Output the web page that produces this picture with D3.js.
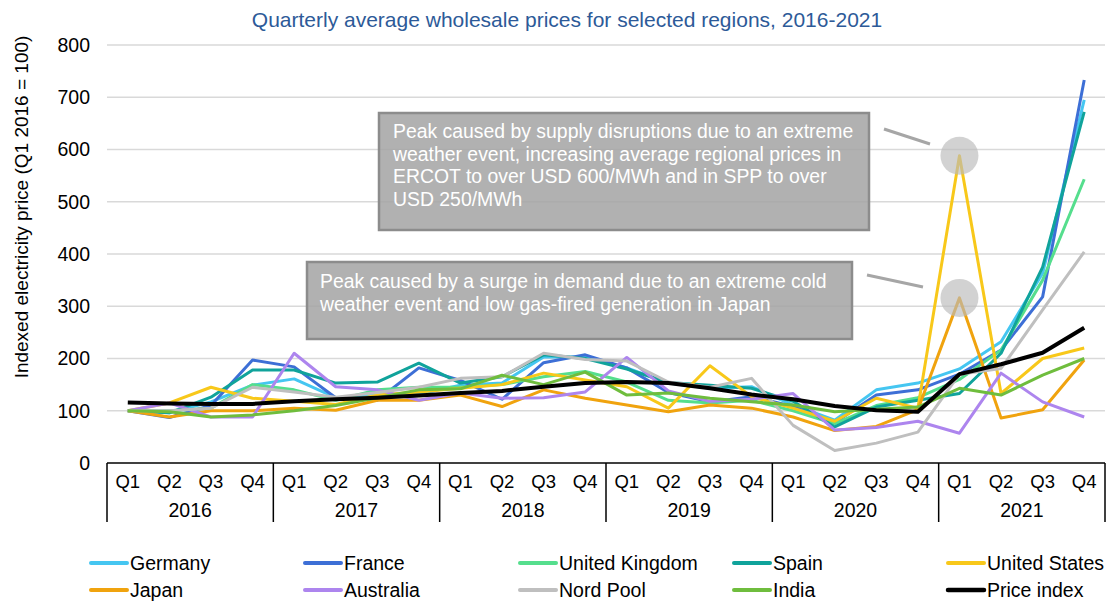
<!DOCTYPE html>
<html><head><meta charset="utf-8">
<script src="https://cdn.jsdelivr.net/npm/d3@7"></script>
<style>
body{margin:0;background:#fff;}
svg{display:block;font-family:"Liberation Sans",Arial,sans-serif;}
</style></head>
<body><svg id="c" width="1110" height="601"></svg>
<script>
const quarters = ["Q1","Q2","Q3","Q4"];
const years = ["2016","2017","2018","2019","2020","2021"];
const yTicks = [0,100,200,300,400,500,600,700,800];

const germany   = [100, 96,117,149, 161,125,130,132, 149,153,203,203, 182,153,143,146, 111, 82,140,153, 180,232,363,695];
const france    = [100, 87,110,197, 184,125,120,182, 158,122,192,207, 182,135,117,127, 108, 77,130,140, 170,216,318,733];
const uk        = [100,100,105,150, 140,120,140,145, 145,150,165,175, 155,120,115,120, 100, 75,110,125, 160,216,350,543];
const spain     = [100, 96,126,178, 178,153,155,191, 153,165,207,200, 180,154,149,143, 118, 69,107,120, 133,210,375,672];
const us        = [100,115,145,124, 118,112,130,136, 143,150,172,159, 146,105,186,127, 105, 80,124,105, 588,133,200,220];
const japan     = [100, 88,100,100, 105,101,120,120, 130,108,140,124, 111, 98,111,105,  88, 62, 70,102, 316, 86,102,197];
const australia = [100,115, 88, 88, 210,146,140,120, 134,124,125,136, 202,138,118,122, 133, 63, 68, 80,  57,172,117, 88];
const nordPool  = [100,100,105,145, 136,126,135,145, 162,165,210,198, 195,155,145,162,  72, 24, 38, 59, 170,181,293,404];
const india     = [100, 98, 88, 92, 100,110,125,140, 142,168,150,174, 130,134,124,117, 111, 98,103,107, 143,130,168,200];
const priceIndex= [116,114,113,113, 118,122,125,129, 134,138,146,153, 155,153,143,131, 122,109,101, 98, 170,189,211,259];

const seriesNames = ["Germany","France","United Kingdom","Spain","United States","Japan","Australia","Nord Pool","India","Price index"];
const seriesValues = [germany,france,uk,spain,us,japan,australia,nordPool,india,priceIndex];
const seriesColors = ["#45c6f1","#3d6fd6","#55de8d","#10a39b","#f8c81a","#f0a30e","#ad85ee","#bfbfbf","#6fbd3d","#000000"];

const title = "Quarterly average wholesale prices for selected regions, 2016-2021";
const yLabel = "Indexed electricity price (Q1 2016 = 100)";
const note1 = ["Peak caused by supply disruptions due to an extreme","weather event, increasing average regional prices in","ERCOT to over USD 600/MWh and in SPP to over","USD 250/MWh"];
const note2 = ["Peak caused by a surge in demand due to an extreme cold","weather event and low gas-fired generation in Japan"];

const svg = d3.select("#c");
const L = 107, R = 1105, T = 45, B = 463;
const cats = d3.range(years.length*4).map(i => years[Math.floor(i/4)] + quarters[i%4]);
const x = d3.scaleBand().domain(cats).range([L,R]);
const xc = i => x(cats[i]) + x.bandwidth()/2;
const y = d3.scaleLinear().domain([0,800]).range([B,T]);

// title
svg.append("text").attr("x",567).attr("y",27).attr("text-anchor","middle")
  .attr("font-size",21).attr("fill","#2d5a98").text(title);

// grid
svg.append("g").selectAll("line").data(yTicks.filter(d=>d>0)).join("line")
  .attr("x1",L).attr("x2",R).attr("y1",d=>y(d)).attr("y2",d=>y(d))
  .attr("stroke","#d9d9d9").attr("stroke-width",1.5);

// y axis labels
const yAxis = d3.axisLeft(y).tickValues(yTicks).tickSize(0).tickPadding(17);
const gy = svg.append("g").attr("transform",`translate(${L},0)`).call(yAxis);
gy.select(".domain").remove();
gy.selectAll("text").attr("font-size",19.5).attr("fill","#000").attr("font-family","Liberation Sans, Arial, sans-serif");

svg.append("text").attr("transform","translate(28,207) rotate(-90)").attr("text-anchor","middle")
  .attr("font-size",19).attr("fill","#000").text(yLabel);

// annotation boxes
function box(x0,y0,w,h,lines,tx,ty){
  svg.append("rect").attr("x",x0).attr("y",y0).attr("width",w).attr("height",h)
    .attr("fill","#a3a3a3").attr("fill-opacity",0.85).attr("stroke","#8c8c8c").attr("stroke-width",2.5);
  const t = svg.append("text").attr("font-size",19.4).attr("fill","#fff");
  lines.forEach((s,i)=> t.append("tspan").attr("x",tx).attr("y",ty+i*22.5).text(s));
}
box(379,113,490,117,note1,393,138);
box(307,262,545,77,note2,320,288);

// connectors
svg.append("line").attr("x1",884).attr("y1",129).attr("x2",930).attr("y2",144).attr("stroke","#a6a6a6").attr("stroke-width",3);
svg.append("line").attr("x1",867).attr("y1",275).attr("x2",923).attr("y2",287).attr("stroke","#a6a6a6").attr("stroke-width",3);

// lines
const line = d3.line().x((d,i)=>xc(i)).y(d=>y(d));
svg.append("g").selectAll("path").data(seriesValues).join("path")
  .attr("d",line).attr("fill","none")
  .attr("stroke",(d,i)=>seriesColors[i])
  .attr("stroke-width",(d,i)=> i===9 ? 4 : 3)
  .attr("stroke-linejoin","round");

// highlight circles at peaks
const peaks = [[20, us[20]],[20, japan[20]]];
svg.append("g").selectAll("circle").data(peaks).join("circle")
  .attr("cx",d=>xc(d[0])).attr("cy",d=>y(d[1])).attr("r",19)
  .attr("fill","#bababa").attr("fill-opacity",0.65);

// x axis
svg.append("line").attr("x1",L).attr("x2",R).attr("y1",B).attr("y2",B).attr("stroke","#000").attr("stroke-width",1.5);
svg.append("g").selectAll("line").data(d3.range(years.length+1)).join("line")
  .attr("x1",i=> i<years.length ? x(cats[i*4]) : R).attr("x2",i=> i<years.length ? x(cats[i*4]) : R)
  .attr("y1",B).attr("y2",522).attr("stroke","#000").attr("stroke-width",1.5);
svg.append("g").selectAll("text").data(cats).join("text")
  .attr("x",(d,i)=>xc(i)).attr("y",488).attr("text-anchor","middle")
  .attr("font-size",18.5).attr("fill","#000").text((d,i)=>quarters[i%4]);
svg.append("g").selectAll("text").data(years).join("text")
  .attr("x",(d,i)=>(x(cats[i*4]) + (i<years.length-1 ? x(cats[i*4+4]) : R))/2).attr("y",517).attr("text-anchor","middle")
  .attr("font-size",19.5).attr("fill","#000").text(d=>d);

// legend
const legX = [91,305,520,734,948];
const legY = [563,590];
const lg = svg.append("g").selectAll("g").data(seriesNames).join("g")
  .attr("transform",(d,i)=>`translate(${legX[i%5]},${legY[Math.floor(i/5)]})`);
lg.append("line").attr("x1",0).attr("x2",36).attr("y1",0).attr("y2",0)
  .attr("stroke",(d,i)=>seriesColors[i]).attr("stroke-width",(d,i)=>i===9?4.5:4).attr("stroke-linecap","round");
lg.append("text").attr("x",39).attr("y",7).attr("font-size",19.5).attr("fill","#000").text(d=>d);
</script></body></html>
